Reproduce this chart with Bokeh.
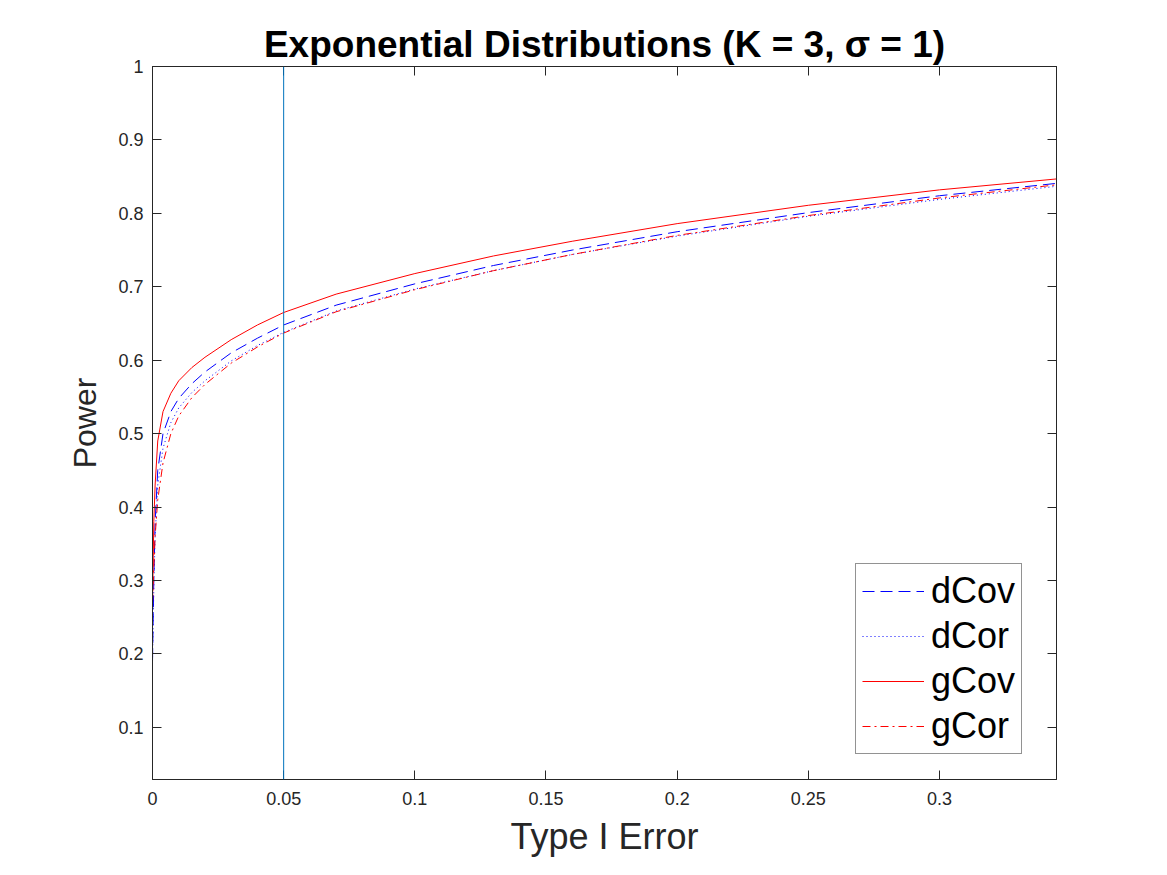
from bokeh.plotting import figure
from bokeh.models import FixedTicker, LinearAxis, Range1d, Legend, LegendItem, Span
from bokeh.embed import file_html
from bokeh.resources import INLINE

# Data
type1 = [0, 0.0005, 0.001, 0.002, 0.004, 0.007, 0.01, 0.015, 0.02, 0.03, 0.04, 0.05,
         0.07, 0.1, 0.13, 0.16, 0.2, 0.25, 0.3, 0.345]
dcov = [0.19, 0.30, 0.38, 0.45, 0.50, 0.53, 0.548, 0.568, 0.584, 0.610, 0.630, 0.648,
        0.675, 0.704, 0.729, 0.750, 0.775, 0.801, 0.824, 0.841]
dcor = [0.19, 0.29, 0.36, 0.43, 0.48, 0.515, 0.535, 0.556, 0.572, 0.599, 0.620, 0.638,
        0.667, 0.697, 0.722, 0.744, 0.769, 0.796, 0.819, 0.837]
gcov = [0.27, 0.38, 0.43, 0.49, 0.53, 0.555, 0.572, 0.59, 0.604, 0.628, 0.648, 0.665,
        0.69, 0.718, 0.742, 0.762, 0.786, 0.811, 0.832, 0.847]
gcor = [0.27, 0.32, 0.36, 0.41, 0.46, 0.50, 0.524, 0.549, 0.567, 0.596, 0.618, 0.637,
        0.666, 0.696, 0.722, 0.744, 0.770, 0.797, 0.821, 0.839]
alpha_line = 0.05

x_ticks = [0, 0.05, 0.1, 0.15, 0.2, 0.25, 0.3]
x_labels = ["0", "0.05", "0.1", "0.15", "0.2", "0.25", "0.3"]
y_ticks = [0.1, 0.2, 0.3, 0.4, 0.5, 0.6, 0.7, 0.8, 0.9, 1.0]
y_labels = ["0.1", "0.2", "0.3", "0.4", "0.5", "0.6", "0.7", "0.8", "0.9", "1"]

FONT = "Liberation Sans"
AX = "#262626"

p = figure(width=1167, height=875, output_backend="svg", toolbar_location=None,
           x_range=Range1d(0, 0.3446), y_range=Range1d(0.029, 1.0),
           min_border_left=152, min_border_right=111, min_border_top=66, min_border_bottom=96,
           title="Exponential Distributions (K = 3, σ = 1)")
p.title.align = "center"
p.title.text_font = FONT
p.title.text_font_size = "37px"
p.title.text_font_style = "bold"
p.title.text_color = "black"
p.title.offset = 0
p.title.standoff = 4

p.grid.visible = False
p.outline_line_color = AX
p.outline_line_width = 1
p.background_fill_color = "white"
p.border_fill_color = "white"

def style_axis(ax, ticks, labels, show_labels=True):
    ax.ticker = FixedTicker(ticks=ticks)
    if show_labels:
        ax.major_label_overrides = {t: l for t, l in zip(ticks, labels)}
    else:
        ax.major_label_overrides = {t: "" for t in ticks}
    ax.major_tick_in = 9
    ax.major_tick_out = 0
    ax.minor_tick_in = 0
    ax.minor_tick_out = 0
    ax.axis_line_color = AX
    ax.major_tick_line_color = AX
    ax.major_label_text_font = FONT
    ax.major_label_text_font_size = "18px"
    ax.major_label_text_color = AX

xa = p.xaxis[0]
style_axis(xa, x_ticks, x_labels)
xa.axis_label = "Type I Error"
xa.axis_label_text_font = FONT
xa.axis_label_text_font_size = "36px"
xa.axis_label_text_font_style = "normal"
xa.axis_label_text_color = AX
xa.major_label_standoff = 12
xa.axis_label_standoff = 8

ya = p.yaxis[0]
style_axis(ya, y_ticks, y_labels)
ya.axis_label = "Power"
ya.axis_label_text_font = FONT
ya.axis_label_text_font_size = "32px"
ya.axis_label_text_font_style = "normal"
ya.axis_label_text_color = AX
ya.major_label_standoff = 9
ya.axis_label_standoff = 12

top = LinearAxis()
style_axis(top, x_ticks, x_labels, show_labels=False)
p.add_layout(top, "above")
right = LinearAxis()
style_axis(right, y_ticks, y_labels, show_labels=False)
p.add_layout(right, "right")

p.add_layout(Span(location=alpha_line, dimension="height", line_color="#0072BD", line_width=1))

r1 = p.line(type1, dcov, line_color="blue", line_width=1, line_dash="12 6")
r2 = p.line(type1, dcor, line_color="blue", line_width=1, line_dash="1 3")
r3 = p.line(type1, gcov, line_color="red", line_width=1)
r4 = p.line(type1, gcor, line_color="red", line_width=1, line_dash="8 4 2 4")

legend = Legend(items=[LegendItem(label="dCov", renderers=[r1]),
                       LegendItem(label="dCor", renderers=[r2]),
                       LegendItem(label="gCov", renderers=[r3]),
                       LegendItem(label="gCor", renderers=[r4])],
                location=(703, 25))
legend.label_text_font = FONT
legend.label_text_font_size = "36px"
legend.label_text_color = "black"
legend.glyph_width = 62
legend.glyph_height = 40
legend.label_height = 40
legend.label_standoff = 7
legend.spacing = 3
legend.padding = 6
legend.margin = 0
legend.border_line_color = AX
legend.border_line_width = 1
legend.background_fill_alpha = 1
p.add_layout(legend, "center")

open("out.html", "w").write(file_html(p, INLINE))
